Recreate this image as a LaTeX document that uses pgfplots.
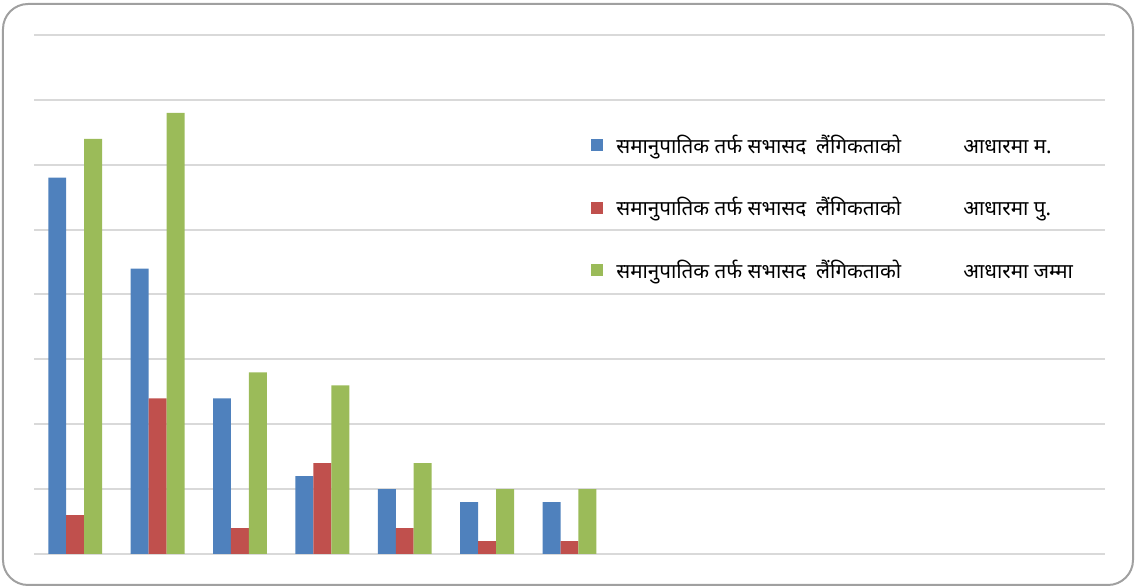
\documentclass[border=0pt]{standalone}
\usepackage{fontspec}
\newfontfamily\devfont[Script=Devanagari]{Noto Sans}
\usepackage{pgfplots}
\pgfplotsset{compat=1.18}

\definecolor{cblue}{HTML}{4F81BD}
\definecolor{cred}{HTML}{C0504D}
\definecolor{cgreen}{HTML}{9BBB59}
\definecolor{gridgray}{HTML}{D9D9D9}
\definecolor{framegray}{HTML}{A0A0A0}

\newcommand{\entry}[1]{\hspace{4.5pt}\makebox[173.5pt][l]{समानुपातिक तर्फ सभासद\hspace{5pt}लैंगिकताको}#1}

\begin{document}
\begin{tikzpicture}
\useasboundingbox (-17pt,-16.5pt) rectangle (550.5pt,277pt);
\draw[framegray, line width=1pt, rounded corners=12.5pt] (-15.5pt,-15.5pt) rectangle (549.5pt,275pt);
\begin{axis}[
    at={(0pt,0pt)}, anchor=south west,
    scale only axis,
    width=535.5pt, height=259.5pt,
    ybar=0pt, bar width=0.218,
    xmin=0.5, xmax=13.5,
    ymin=0, ymax=40,
    ytick={0,5,...,40}, yticklabels={},
    xtick=\empty,
    major tick length=0pt,
    ymajorgrids,
    grid style={gridgray, line width=1pt},
    axis line style={draw=none},
    legend style={
        at={(0.520,0.667)}, anchor=west,
        draw=none, fill=none,
        font=\devfont\fontsize{10.3pt}{12pt}\selectfont,
        row sep=16.5pt,
        legend cell align=left,
        inner sep=0pt,
    },
    legend image code/.code={\fill[#1] (0pt,-3pt) rectangle (6pt,3pt);},
]
\addplot[fill=cblue, draw=none] coordinates {(1,29) (2,22) (3,12) (4,6) (5,5) (6,4) (7,4)};
\addlegendentry{\entry{आधारमा म.}}
\addplot[fill=cred, draw=none] coordinates {(1,3) (2,12) (3,2) (4,7) (5,2) (6,1) (7,1)};
\addlegendentry{\entry{आधारमा पु.}}
\addplot[fill=cgreen, draw=none] coordinates {(1,32) (2,34) (3,14) (4,13) (5,7) (6,5) (7,5)};
\addlegendentry{\entry{आधारमा जम्मा}}
\end{axis}
\end{tikzpicture}
\end{document}
